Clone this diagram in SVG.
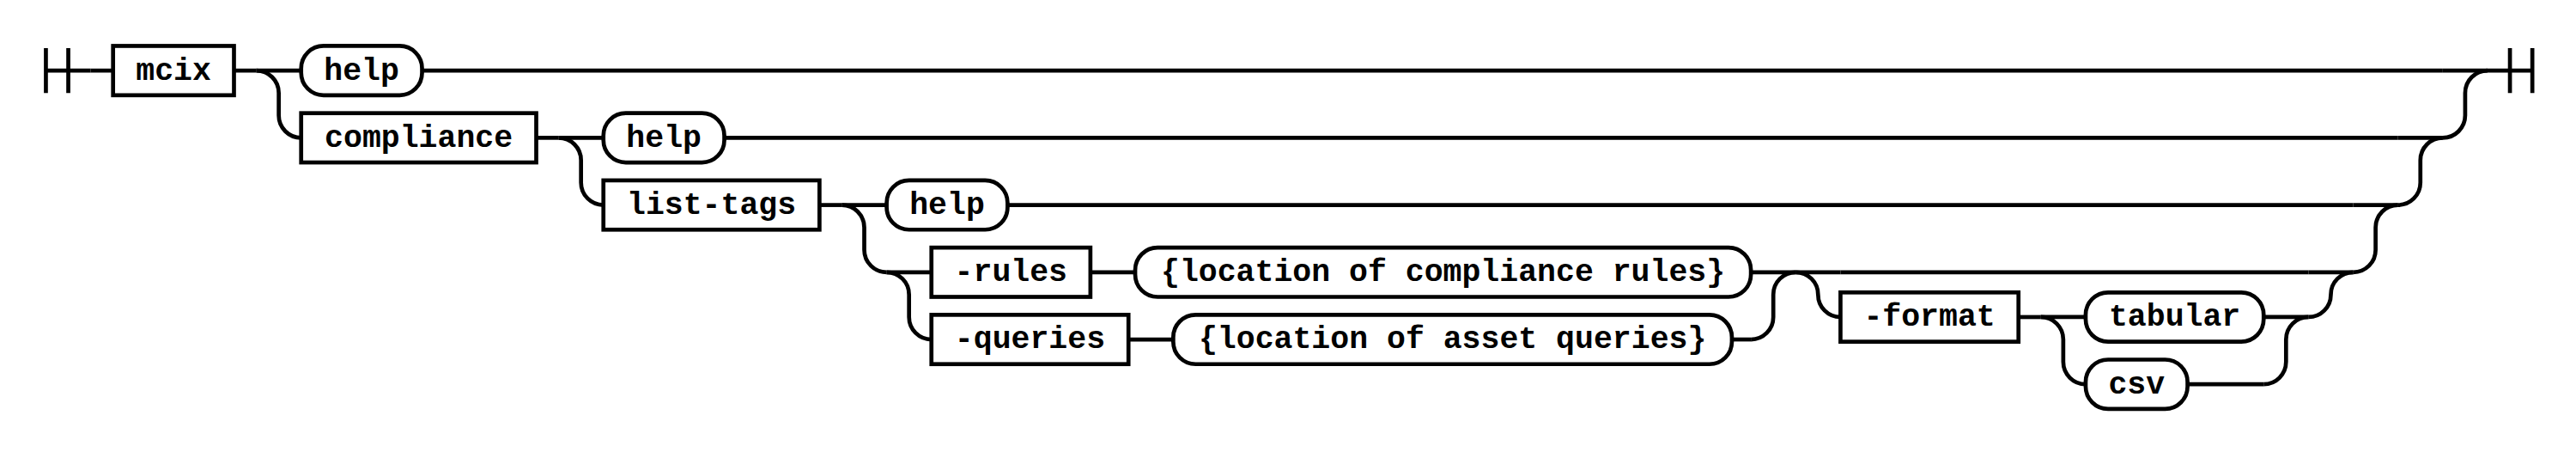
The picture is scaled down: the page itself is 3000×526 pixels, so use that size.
<svg xmlns="http://www.w3.org/2000/svg" width="3000" height="526" viewBox="0 0 3000 526">
<style>
.c{fill:none;stroke:#000;stroke-width:1.8}
.n{fill:#fff;stroke:#000;stroke-width:1.8}
text{font-family:"Liberation Mono","Courier New",monospace;font-weight:bold;font-size:14px;text-anchor:middle;fill:#000}
</style>
<rect width="3000" height="526" fill="#fff"/>
<g transform="scale(2.60756) translate(.5 .5)">
<g id="connectors" class="c">
<path d="M20 21v20m10-20v20m-10-10h20"/>
<path d="M40 31h10"/>
<path d="M104 31h10"/>
<path d="M114 31h20"/>
<path d="M188 31h902.5"/>
<path d="M1090.5 31h20"/>
<path d="M114 31a10 10 0 0 1 10 10v10a10 10 0 0 0 10 10"/>
<path d="M1090.5 61a10 10 0 0 0 10 -10v-10a10 10 0 0 1 10 -10"/>
<path d="M239 61h10"/>
<path d="M249 61h20"/>
<path d="M323 61h747.5"/>
<path d="M1070.5 61h20"/>
<path d="M249 61a10 10 0 0 1 10 10v10a10 10 0 0 0 10 10"/>
<path d="M1070.5 91a10 10 0 0 0 10 -10v-10a10 10 0 0 1 10 -10"/>
<path d="M365.5 91h10"/>
<path d="M375.5 91h20"/>
<path d="M449.5 91h601"/>
<path d="M1050.5 91h20"/>
<path d="M375.5 91a10 10 0 0 1 10 10v10a10 10 0 0 0 10 10"/>
<path d="M1050.5 121a10 10 0 0 0 10 -10v-10a10 10 0 0 1 10 -10"/>
<path d="M395.5 121h20"/>
<path d="M486.5 121h20"/>
<path d="M781.5 121h20"/>
<path d="M395.5 121a10 10 0 0 1 10 10v10a10 10 0 0 0 10 10"/>
<path d="M503.5 151h20"/>
<path d="M773 151h8.5"/>
<path d="M781.5 151a10 10 0 0 0 10 -10v-10a10 10 0 0 1 10 -10"/>
<path d="M801.5 121h20"/>
<path d="M821.5 121h209"/>
<path d="M1030.5 121h20"/>
<path d="M801.5 121a10 10 0 0 1 10 10a10 10 0 0 0 10 10"/>
<path d="M1030.5 141a10 10 0 0 0 10 -10a10 10 0 0 1 10 -10"/>
<path d="M901 141h10"/>
<path d="M911 141h20"/>
<path d="M1010.5 141h20"/>
<path d="M911 141a10 10 0 0 1 10 10v10a10 10 0 0 0 10 10"/>
<path d="M976.5 171h34"/>
<path d="M1010.5 171a10 10 0 0 0 10 -10v-10a10 10 0 0 1 10 -10"/>
<path d="M1110.5 31h20m-10-10v20m10-20v20"/>
</g>
<g id="node-mcix"><rect class="n" x="50" y="20" width="54" height="22"/><text x="77" y="35">mcix</text></g>
<g id="node-help-1"><rect class="n" x="134" y="20" width="54" height="22" rx="10" ry="10"/><text x="161" y="35">help</text></g>
<g id="node-compliance"><rect class="n" x="134" y="50" width="105" height="22"/><text x="186.5" y="65">compliance</text></g>
<g id="node-help-2"><rect class="n" x="269" y="50" width="54" height="22" rx="10" ry="10"/><text x="296" y="65">help</text></g>
<g id="node-list-tags"><rect class="n" x="269" y="80" width="96.5" height="22"/><text x="317.25" y="95">list-tags</text></g>
<g id="node-help-3"><rect class="n" x="395.5" y="80" width="54" height="22" rx="10" ry="10"/><text x="422.5" y="95">help</text></g>
<g id="node-rules"><rect class="n" x="415.5" y="110" width="71" height="22"/><text x="451" y="125">-rules</text></g>
<g id="node-rules-location"><rect class="n" x="506.5" y="110" width="275" height="22" rx="10" ry="10"/><text x="644" y="125">{location of compliance rules}</text></g>
<g id="node-queries"><rect class="n" x="415.5" y="140" width="88" height="22"/><text x="459.5" y="155">-queries</text></g>
<g id="node-queries-location"><rect class="n" x="523.5" y="140" width="249.5" height="22" rx="10" ry="10"/><text x="648.25" y="155">{location of asset queries}</text></g>
<g id="node-format"><rect class="n" x="821.5" y="130" width="79.5" height="22"/><text x="861.25" y="145">-format</text></g>
<g id="node-tabular"><rect class="n" x="931" y="130" width="79.5" height="22" rx="10" ry="10"/><text x="970.75" y="145">tabular</text></g>
<g id="node-csv"><rect class="n" x="931" y="160" width="45.5" height="22" rx="10" ry="10"/><text x="953.75" y="175">csv</text></g>
</g>
</svg>
